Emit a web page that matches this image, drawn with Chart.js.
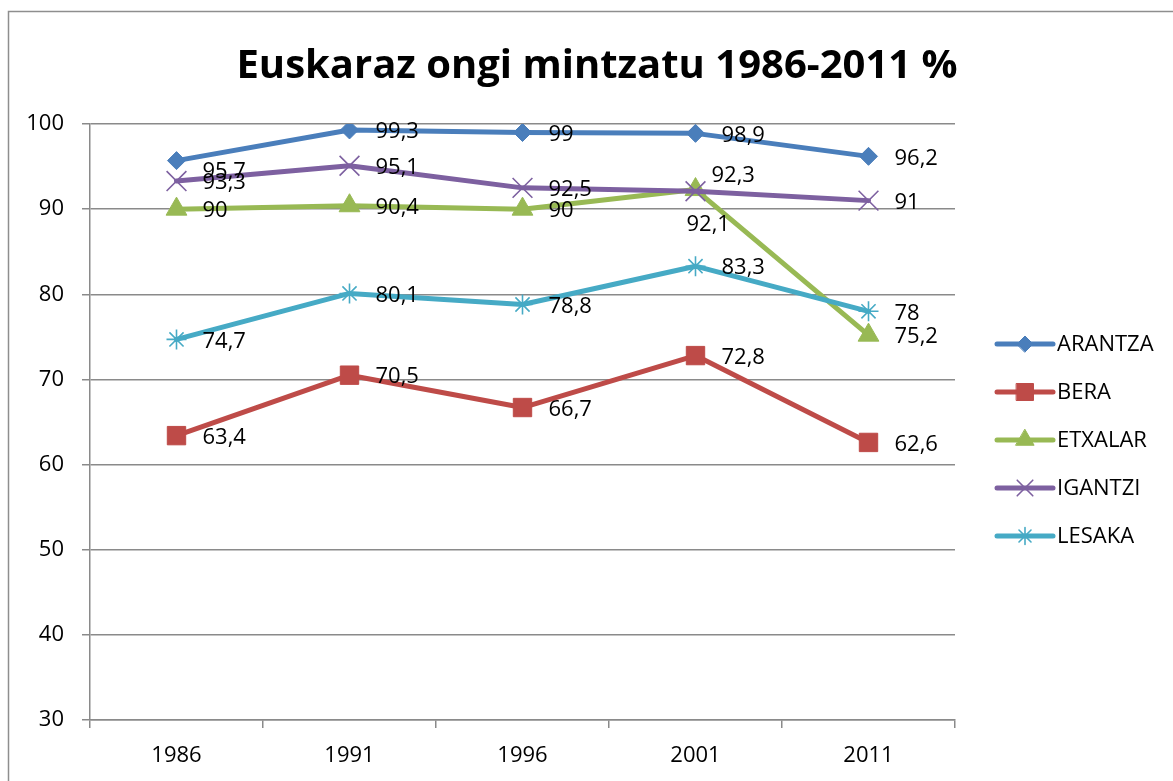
<!DOCTYPE html>
<html lang="eu">
<head>
<meta charset="UTF-8">
<title>Euskaraz ongi mintzatu 1986-2011 %</title>
<script src="https://cdn.jsdelivr.net/npm/chart.js"></script>
<style>
	html, body { margin: 0; padding: 0; background: #fff; }
	#wrap { width: 1173px; height: 781px; }
</style>
</head>
<body>
<div id="wrap"><canvas id="myChart" width="1173" height="781"></canvas></div>
<script>
	// datuak
	var urteak = ['1986', '1991', '1996', '2001', '2011'];
	var herriak = ['ARANTZA', 'BERA', 'ETXALAR', 'IGANTZI', 'LESAKA'];
	var arantza = [95.7, 99.3, 99, 98.9, 96.2];
	var bera = [63.4, 70.5, 66.7, 72.8, 62.6];
	var etxalar = [90, 90.4, 90, 92.3, 75.2];
	var igantzi = [93.3, 95.1, 92.5, 92.1, 91];
	var lesaka = [74.7, 80.1, 78.8, 83.3, 78];
	var yMin = 30, yMax = 100, yStep = 10;
	var titulua = 'Euskaraz ongi mintzatu 1986-2011 %';

	var letra = "'Open Sans', 'DejaVu Sans', sans-serif";
	var grisa = '#8a8a8a';

	var estiloak = [
		{ kolorea: '#4a7ebb', marka: 'rectRot', r: 9, lr: 8 },
		{ kolorea: '#be4b48', marka: 'rect', r: 13, lr: 12 },
		{ kolorea: '#98b954', marka: 'triangle', r: 12, lr: 10.5 },
		{ kolorea: '#7d60a0', marka: 'crossRot', r: 14, lr: 11 },
		{ kolorea: '#46aac5', marka: 'star', r: 10, lr: 8.5 }
	];
	var balioak = [arantza, bera, etxalar, igantzi, lesaka];

	// etiketen desplazamenduak (ezkerreko ertza, erdigunea)
	var desplaz = {
		'0-0': [26, 11],
		'2-3': [16, -14],
		'3-3': [-9, 33]
	};

	var datasets = herriak.map(function(izena, i) {
		var e = estiloak[i];
		var lerroa = e.marka === 'crossRot' || e.marka === 'star';
		return {
			label: izena,
			data: balioak[i],
			borderColor: e.kolorea,
			backgroundColor: e.kolorea,
			borderWidth: 5,
			borderJoinStyle: 'round',
			borderCapStyle: 'round',
			tension: 0,
			pointStyle: e.marka,
			pointRadius: e.r,
			pointHoverRadius: e.r,
			pointBackgroundColor: e.kolorea,
			pointBorderColor: e.kolorea,
			pointBorderWidth: lerroa ? 1.6 : 1,
			order: herriak.length - i
		};
	});

	var fondoa = {
		id: 'fondoa',
		beforeDraw: function(chart) {
			var ctx = chart.ctx;
			ctx.save();
			ctx.fillStyle = '#fff';
			ctx.fillRect(0, 0, chart.width, chart.height);
			ctx.strokeStyle = '#8e8e8e';
			ctx.lineWidth = 1.5;
			ctx.beginPath();
			ctx.moveTo(8.5, chart.height);
			ctx.lineTo(8.5, 11.5);
			ctx.lineTo(chart.width, 11.5);
			ctx.stroke();
			ctx.restore();
		}
	};

	var izenburua = {
		id: 'izenburua',
		afterDraw: function(chart) {
			var ctx = chart.ctx;
			ctx.save();
			var tam = 40;
			ctx.font = 'bold ' + tam + 'px ' + letra;
			var w = ctx.measureText(titulua).width;
			if (w > 722) {
				tam = tam * 722 / w;
				ctx.font = 'bold ' + tam + 'px ' + letra;
			}
			ctx.fillStyle = '#000';
			ctx.textAlign = 'center';
			ctx.textBaseline = 'alphabetic';
			ctx.fillText(titulua, 597, 78);
			ctx.restore();
		}
	};

	var etiketak = {
		id: 'etiketak',
		afterDatasetsDraw: function(chart) {
			var ctx = chart.ctx;
			ctx.save();
			ctx.font = '22px ' + letra;
			ctx.fillStyle = '#000';
			ctx.textAlign = 'left';
			ctx.textBaseline = 'middle';
			chart.data.datasets.forEach(function(ds, i) {
				var meta = chart.getDatasetMeta(i);
				meta.data.forEach(function(p, j) {
					var d = desplaz[i + '-' + j] || [26, 2];
					var testua = String(ds.data[j]).replace('.', ',');
					ctx.fillText(testua, p.x + d[0], p.y + d[1]);
				});
			});
			ctx.restore();
		}
	};

	var legenda = {
		id: 'legenda',
		afterDraw: function(chart) {
			var ctx = chart.ctx;
			var x0 = 997, x1 = 1053, y0 = 344, tartea = 48;
			ctx.save();
			chart.data.datasets.forEach(function(ds, i) {
				var e = estiloak[i];
				var y = y0 + i * tartea;
				ctx.strokeStyle = e.kolorea;
				ctx.fillStyle = e.kolorea;
				ctx.lineWidth = 5;
				ctx.lineCap = 'round';
				ctx.beginPath();
				ctx.moveTo(x0, y);
				ctx.lineTo(x1, y);
				ctx.stroke();
				ctx.lineWidth = ds.pointBorderWidth;
				Chart.helpers.drawPoint(ctx, {
					pointStyle: e.marka,
					radius: e.lr,
					borderWidth: ds.pointBorderWidth,
					rotation: 0
				}, (x0 + x1) / 2, y);
				ctx.font = '22px ' + letra;
				ctx.fillStyle = '#000';
				ctx.textAlign = 'left';
				ctx.textBaseline = 'middle';
				ctx.fillText(ds.label, 1057, y + 1);
			});
			ctx.restore();
		}
	};

	var myChart = new Chart(document.getElementById('myChart'), {
		type: 'line',
		data: { labels: urteak, datasets: datasets },
		options: {
			responsive: false,
			animation: false,
			devicePixelRatio: 1,
			layout: { padding: { left: 8, top: 124, right: 218, bottom: 0 } },
			plugins: {
				legend: { display: false },
				title: { display: false },
				tooltip: { enabled: false }
			},
			scales: {
				x: {
					offset: true,
					grid: {
						offset: true,
						drawOnChartArea: false,
						drawTicks: true,
						tickLength: 8,
						color: grisa,
						lineWidth: 1.5
					},
					border: { color: grisa, width: 1.5 },
					ticks: { color: '#000', font: { family: letra, size: 22 }, padding: 15, maxRotation: 0 },
					afterFit: function(s) { s.height = 61; }
				},
				y: {
					min: yMin,
					max: yMax,
					grid: { color: grisa, lineWidth: 1.5, tickLength: 8 },
					border: { color: grisa, width: 1.5 },
					ticks: { stepSize: yStep, color: '#000', font: { family: letra, size: 22 }, padding: 18 },
					afterFit: function(s) { s.width = 82; }
				}
			}
		},
		plugins: [fondoa, etiketak, legenda, izenburua]
	});
</script>
</body>
</html>
